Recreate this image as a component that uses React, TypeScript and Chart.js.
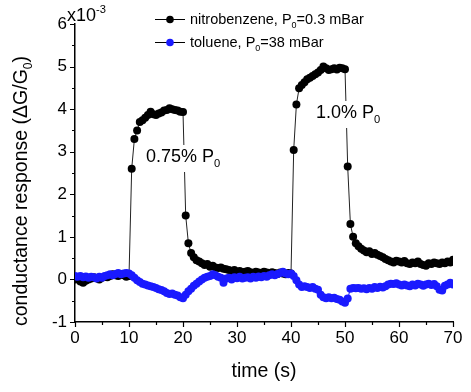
import React, { useEffect, useRef } from "react";
import { Chart, registerables } from "chart.js";

Chart.register(...registerables);

const TIME_S = [
  0, 0.5, 1, 1.5, 2, 2.5, 3, 3.5, 4, 4.5, 5, 5.5, 6, 6.5, 7, 7.5, 8, 8.5, 9, 9.5,
  10, 10.5, 11, 11.5, 12, 12.5, 13, 13.5, 14, 14.5, 15, 15.5, 16, 16.5, 17, 17.5, 18, 18.5, 19, 19.5,
  20, 20.5, 21, 21.5, 22, 22.5, 23, 23.5, 24, 24.5, 25, 25.5, 26, 26.5, 27, 27.5, 28, 28.5, 29, 29.5,
  30, 30.5, 31, 31.5, 32, 32.5, 33, 33.5, 34, 34.5, 35, 35.5, 36, 36.5, 37, 37.5, 38, 38.5, 39, 39.5,
  40, 40.5, 41, 41.5, 42, 42.5, 43, 43.5, 44, 44.5, 45, 45.5, 46, 46.5, 47, 47.5, 48, 48.5, 49, 49.5,
  50, 50.5, 51, 51.5, 52, 52.5, 53, 53.5, 54, 54.5, 55, 55.5, 56, 56.5, 57, 57.5, 58, 58.5, 59, 59.5,
  60, 60.5, 61, 61.5, 62, 62.5, 63, 63.5, 64, 64.5, 65, 65.5, 66, 66.5, 67, 67.5, 68, 68.5, 69, 69.5,
  70,
];

// conductance response, units of 1e-3
const NITROBENZENE = [
  0.00, 0.02, -0.05, -0.08, -0.03, 0.00, 0.02, 0.05, 0.03, 0.00, 0.04, 0.06, 0.05, 0.08, 0.12, 0.10, 0.08, 0.12, 0.10, 0.06, 0.08,
  2.60, 3.30, 3.50, 3.70, 3.74, 3.80, 3.86, 3.94, 3.88, 3.86, 3.90, 3.92, 3.97, 3.98, 4.02, 4.00, 3.98, 3.97, 3.94, 3.93,
  1.50, 0.85, 0.62, 0.52, 0.45, 0.42, 0.38, 0.34, 0.36, 0.30, 0.32, 0.28, 0.27, 0.28, 0.25, 0.24, 0.22, 0.20, 0.22, 0.18,
  0.20, 0.16, 0.18, 0.20, 0.17, 0.15, 0.18, 0.16, 0.14, 0.18, 0.16, 0.14, 0.17, 0.15, 0.13, 0.16, 0.14, 0.12, 0.15, 0.14,
  3.04, 4.11, 4.49, 4.57, 4.63, 4.70, 4.74, 4.78, 4.82, 4.86, 4.92, 5.00, 4.96, 4.92, 4.94, 4.96, 4.93, 4.97, 4.96, 4.94,
  2.65, 1.30, 1.00, 0.85, 0.78, 0.72, 0.68, 0.64, 0.66, 0.60, 0.62, 0.58, 0.55, 0.52, 0.48, 0.45, 0.42, 0.40, 0.44, 0.42,
  0.40, 0.43, 0.38, 0.36, 0.40, 0.38, 0.42, 0.36, 0.34, 0.32, 0.38, 0.36, 0.40, 0.38, 0.36, 0.40, 0.38, 0.42, 0.40, 0.46,
];

const TOLUENE = [
  0.08, 0.06, 0.08, 0.05, 0.07, 0.04, 0.06, 0.05, 0.02, 0.06, 0.04, 0.08, 0.10, 0.12, 0.10, 0.13, 0.15, 0.12, 0.14, 0.15, 0.14,
  0.10, 0.04, -0.02, -0.06, -0.10, -0.12, -0.14, -0.16, -0.18, -0.20, -0.23, -0.25, -0.28, -0.32, -0.34, -0.33, -0.36, -0.38, -0.42, -0.44,
  -0.36, -0.28, -0.22, -0.15, -0.10, -0.05, 0.00, 0.04, 0.06, 0.08, 0.12, 0.10, 0.06, 0.04, -0.08, 0.02, 0.04, 0.00, 0.05, 0.03,
  0.06, 0.02, 0.04, 0.05, 0.02, 0.06, 0.04, 0.07, 0.05, 0.08, 0.06, 0.10, 0.12, 0.10, 0.13, 0.15, 0.18, 0.14, 0.12, 0.14,
  0.08, -0.02, -0.12, -0.18, -0.16, -0.18, -0.20, -0.18, -0.22, -0.24, -0.36, -0.42, -0.44, -0.42, -0.44, -0.43, -0.46, -0.48, -0.52, -0.55,
  -0.45, -0.22, -0.20, -0.21, -0.20, -0.22, -0.21, -0.23, -0.20, -0.22, -0.18, -0.20, -0.17, -0.19, -0.16, -0.12, -0.10, -0.11, -0.09, -0.12,
  -0.14, -0.12, -0.14, -0.16, -0.12, -0.14, -0.10, -0.12, -0.15, -0.12, -0.10, -0.13, -0.11, -0.16, -0.24, -0.26, -0.15, -0.12, -0.08, -0.12,
];

const X_MAJOR = [0, 10, 20, 30, 40, 50, 60, 70];
const X_MINOR = [5, 15, 25, 35, 45, 55, 65];
const Y_MAJOR = [-1, 0, 1, 2, 3, 4, 5, 6];
const Y_MINOR = [-0.5, 0.5, 1.5, 2.5, 3.5, 4.5, 5.5];

const FONT = "'Liberation Sans', Arial, Helvetica, sans-serif";
const BLUE = "#1a1aff";

type Part = { t: string; sub?: boolean; sup?: boolean };

function richWidth(ctx: CanvasRenderingContext2D, parts: Part[], size: number) {
  let w = 0;
  for (const p of parts) {
    const s = p.sub || p.sup ? size * 0.62 : size;
    ctx.font = `${s}px ${FONT}`;
    w += ctx.measureText(p.t).width;
  }
  return w;
}

function drawRich(ctx: CanvasRenderingContext2D, x: number, y: number, parts: Part[], size: number) {
  ctx.textBaseline = "alphabetic";
  ctx.textAlign = "left";
  let cx = x;
  for (const p of parts) {
    const s = p.sub || p.sup ? size * 0.62 : size;
    ctx.font = `${s}px ${FONT}`;
    let yy = y;
    if (p.sub) yy = y + size * 0.28;
    if (p.sup) yy = y - size * 0.45;
    ctx.fillText(p.t, cx, yy);
    cx += ctx.measureText(p.t).width;
  }
  return cx - x;
}

const decorPlugin = {
  id: "decor",
  afterDatasetsDraw(chart: any) {
    const ctx: CanvasRenderingContext2D = chart.ctx;
    const xs = chart.scales.x;
    const ys = chart.scales.y;
    const a = chart.chartArea;
    ctx.save();
    ctx.strokeStyle = "#000";
    ctx.fillStyle = "#000";
    ctx.lineWidth = 1.2;
    // ticks
    ctx.beginPath();
    for (const v of X_MAJOR) {
      const px = Math.round(xs.getPixelForValue(v)) + 0.5;
      ctx.moveTo(px, a.bottom);
      ctx.lineTo(px, a.bottom + 5);
    }
    for (const v of X_MINOR) {
      const px = Math.round(xs.getPixelForValue(v)) + 0.5;
      ctx.moveTo(px, a.bottom);
      ctx.lineTo(px, a.bottom + 3);
    }
    for (const v of Y_MAJOR) {
      const py = Math.round(ys.getPixelForValue(v)) + 0.5;
      ctx.moveTo(a.left, py);
      ctx.lineTo(a.left - 5, py);
    }
    for (const v of Y_MINOR) {
      const py = Math.round(ys.getPixelForValue(v)) + 0.5;
      ctx.moveTo(a.left, py);
      ctx.lineTo(a.left - 3, py);
    }
    ctx.stroke();

    // x10^-3
    drawRich(ctx, 67, 21, [{ t: "x10" }, { t: "-3", sup: true }], 18);

    // x title
    const xt = "time (s)";
    ctx.font = `19.5px ${FONT}`;
    ctx.textAlign = "center";
    ctx.textBaseline = "middle";
    ctx.fillText(xt, (a.left + a.right) / 2, 372);

    // y title
    const yParts: Part[] = [{ t: "conductance response (\u0394G/G" }, { t: "0", sub: true }, { t: ")" }];
    const ysz = 19.5;
    const yw = richWidth(ctx, yParts, ysz);
    ctx.save();
    ctx.translate(27, 191);
    ctx.rotate(-Math.PI / 2);
    drawRich(ctx, -yw / 2, 0, yParts, ysz);
    ctx.restore();

    // legend
    const rows = [
      { y: 19, color: "#000", parts: [{ t: "nitrobenzene, P" }, { t: "0", sub: true }, { t: "=0.3 mBar" }] as Part[] },
      { y: 42, color: BLUE, parts: [{ t: "toluene, P" }, { t: "0", sub: true }, { t: "=38 mBar" }] as Part[] },
    ];
    for (const r of rows) {
      ctx.strokeStyle = "#000";
      ctx.lineWidth = 1;
      ctx.beginPath();
      ctx.moveTo(155, r.y + 0.5);
      ctx.lineTo(185, r.y + 0.5);
      ctx.stroke();
      ctx.fillStyle = r.color;
      ctx.beginPath();
      ctx.arc(170, r.y + 0.5, 3.8, 0, Math.PI * 2);
      ctx.fill();
      ctx.fillStyle = "#000";
      drawRich(ctx, 190, r.y + 5, r.parts, 14.5);
    }

    // annotations with white background
    const notes = [
      { x: 146, y: 162, parts: [{ t: "0.75% P" }, { t: "0", sub: true }] as Part[] },
      { x: 316, y: 118, parts: [{ t: "1.0% P" }, { t: "0", sub: true }] as Part[] },
    ];
    for (const n of notes) {
      const w = richWidth(ctx, n.parts, 18);
      ctx.fillStyle = "#fff";
      ctx.fillRect(n.x - 3, n.y - 17, w + 6, 27);
      ctx.fillStyle = "#000";
      drawRich(ctx, n.x, n.y, n.parts, 18);
    }
    ctx.restore();
  },
};

export default function App() {
  const ref = useRef<HTMLCanvasElement | null>(null);
  useEffect(() => {
    if (!ref.current) return;
    const nitro = TIME_S.map((t, i) => ({ x: t, y: NITROBENZENE[i] }));
    const tol = TIME_S.map((t, i) => ({ x: t, y: TOLUENE[i] }));
    const chart = new Chart(ref.current, {
      type: "line",
      data: {
        datasets: [
          {
            label: "nitrobenzene",
            data: nitro,
            borderColor: "#222",
            borderWidth: 1,
            backgroundColor: "#000",
            pointBackgroundColor: "#000",
            pointBorderWidth: 0,
            pointRadius: 4,
            tension: 0,
            order: 1,
          },
          {
            label: "toluene",
            data: tol,
            borderColor: BLUE,
            borderWidth: 1,
            backgroundColor: BLUE,
            pointBackgroundColor: BLUE,
            pointBorderWidth: 0,
            pointRadius: 4,
            tension: 0,
            order: 0,
          },
        ],
      },
      options: {
        responsive: false,
        animation: false,
        events: [],
        layout: { padding: { left: 0, right: 18, top: 24, bottom: 0 } },
        plugins: { legend: { display: false }, tooltip: { enabled: false } },
        scales: {
          x: {
            type: "linear",
            min: 0,
            max: 70,
            afterFit: (s: any) => {
              s.height = 70;
            },
            ticks: {
              stepSize: 10,
              padding: 6,
              color: "#000",
              font: { family: FONT, size: 17 },
              maxRotation: 0,
            },
            grid: { display: true, drawOnChartArea: false, drawTicks: false },
            border: { display: true, color: "#000", width: 1.5 },
          },
          y: {
            type: "linear",
            min: -1,
            max: 6,
            afterFit: (s: any) => {
              s.width = 75;
            },
            ticks: {
              stepSize: 1,
              padding: 8,
              color: "#000",
              font: { family: FONT, size: 17 },
            },
            grid: { display: true, drawOnChartArea: false, drawTicks: false },
            border: { display: true, color: "#000", width: 1.5 },
          },
        },
      },
      plugins: [decorPlugin],
    });
    return () => chart.destroy();
  }, []);
  return (
    <div style={{ position: "fixed", left: 0, top: 0, width: 471, height: 392, background: "#fff" }}>
      <canvas ref={ref} width={471} height={392} style={{ display: "block", width: 471, height: 392 }} />
    </div>
  );
}
